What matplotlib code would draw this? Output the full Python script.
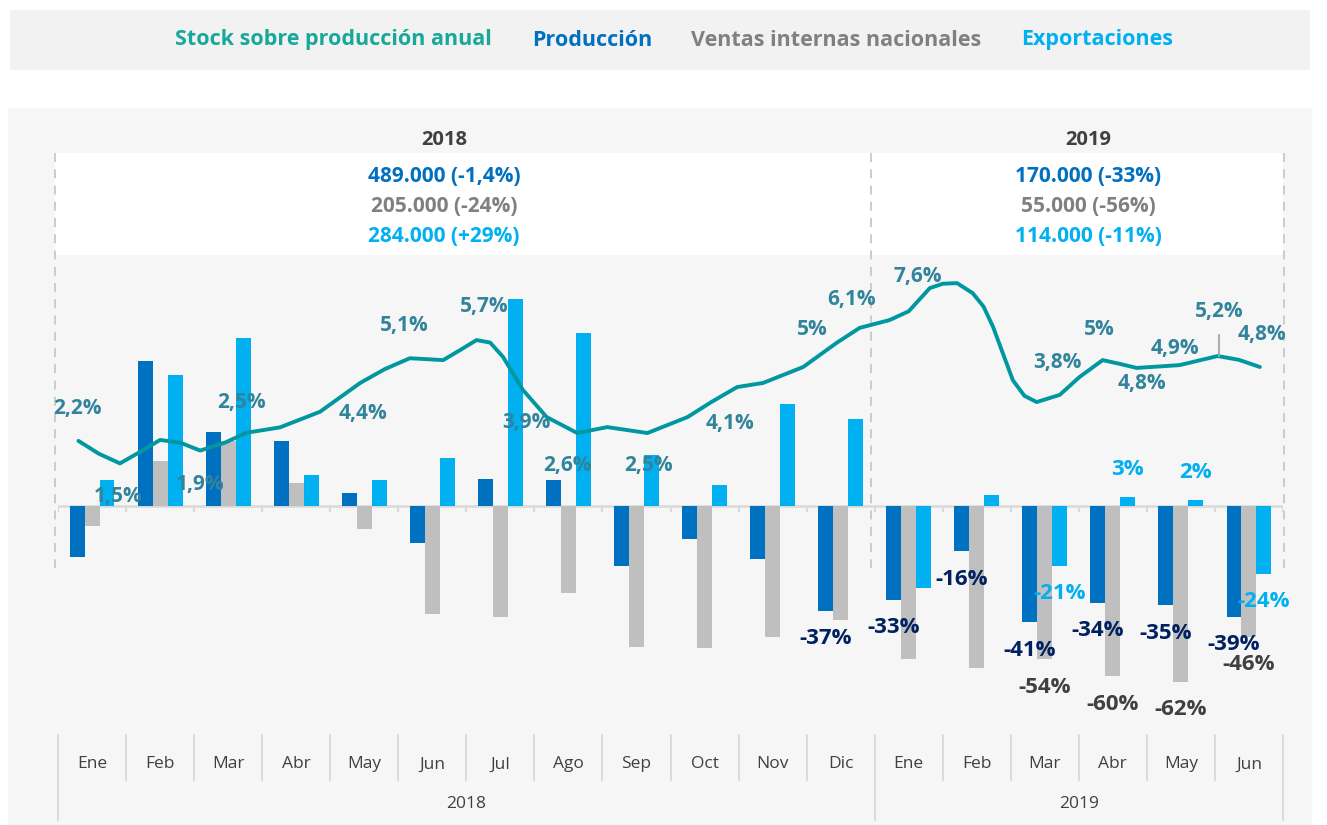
import numpy as np
import matplotlib
matplotlib.use('Agg')
import matplotlib.pyplot as plt
from matplotlib.patches import Rectangle
from matplotlib.transforms import blended_transform_factory

plt.rcParams['font.family'] = ['Open Sans', 'DejaVu Sans']

# data (% change vs same month previous year)
months = ['Ene', 'Feb', 'Mar', 'Abr', 'May', 'Jun', 'Jul', 'Ago', 'Sep', 'Oct', 'Nov', 'Dic',
          'Ene', 'Feb', 'Mar', 'Abr', 'May', 'Jun']
years = ['2018', '2019']
produccion = [-18, 51, 26, 23, 4.5, -13, 9.5, 9, -21, -11.5, -18.5, -37,
              -33, -16, -41, -34, -35, -39]
ventas = [-7, 16, 23, 8, -8, -38, -39, -30.5, -49.5, -50, -46, -40,
          -54, -57, -54, -60, -62, -46]
exportaciones = [9, 46, 59, 11, 9, 17, 73, 61, 18, 7.5, 36, 30.5,
                 -29, 4, -21, 3, 2, -24]
# which bars carry a data label
prod_lab = [False] * 11 + [True] * 7
vent_lab = [False] * 14 + [True] * 4
expo_lab = [False] * 14 + [True] * 4

# stock over annual production (smoothed line)
stock_x = [-0.2, 0.1, 0.41, 0.7, 1.0, 1.3, 1.59, 1.95, 2.27, 2.76, 3.35, 3.94, 4.3, 4.67, 5.16,
           5.4, 5.65, 5.85, 6.04, 6.33, 6.68, 7.13, 7.57, 8.16, 8.75, 9.1, 9.48, 9.86, 10.45,
           10.94, 11.28, 11.72, 12.0, 12.31, 12.5, 12.71, 12.94, 13.1, 13.24, 13.53, 13.7,
           13.88, 14.22, 14.51, 14.85, 15.1, 15.35, 15.98, 16.54, 16.85, 17.16]
stock_y = [2.56, 2.15, 1.84, 2.2, 2.59, 2.5, 2.25, 2.5, 2.82, 2.99, 3.49, 4.41, 4.85, 5.2, 5.14,
           5.45, 5.78, 5.7, 5.24, 4.19, 3.32, 2.81, 3.0, 2.81, 3.32, 3.8, 4.28, 4.41, 4.92,
           5.69, 6.17, 6.42, 6.7, 7.44, 7.58, 7.6, 7.28, 6.85, 6.2, 4.5, 4.0,
           3.8, 4.03, 4.6, 5.14, 5.02, 4.89, 4.98, 5.27, 5.15, 4.92]
stock_labels = ['2,2%', '1,5%', '1,9%', '2,5%', '4,4%', '5,1%', '5,7%', '3,9%', '2,6%', '2,5%',
                '4,1%', '5%', '6,1%', '7,6%', '3,8%', '5%', '4,8%', '4,9%', '5,2%', '4,8%']
stock_lab_x = [-0.21, 0.38, 1.59, 2.19, 3.98, 4.59, 5.76, 6.38, 6.98, 8.18,
               9.37, 10.59, 11.16, 12.13, 14.18, 14.8, 15.42, 15.91, 16.57, 17.19]
stock_lab_y = [3.58, 0.77, 1.18, 3.8, 3.42, 6.26, 6.84, 3.16, 1.76, 1.76,
               3.13, 6.13, 7.09, 7.8, 5.05, 6.13, 4.39, 5.5, 6.68, 5.96]

header_2018 = ['489.000 (-1,4%)', '205.000 (-24%)', '284.000 (+29%)']
header_2019 = ['170.000 (-33%)', '55.000 (-56%)', '114.000 (-11%)']

c_prod = '#0070C0'
c_vent = '#BFBFBF'
c_expo = '#00B0F0'
c_line = '#0097A0'
c_lab = '#31849B'

W, H = 1327, 825
fig = plt.figure(figsize=(W / 100, H / 100), dpi=100)
fig.patch.set_facecolor('white')

# background layer in pixel coordinates
bg = fig.add_axes([0, 0, 1, 1], zorder=-1)
bg.set_xlim(0, W)
bg.set_ylim(H, 0)
bg.axis('off')
bg.add_patch(Rectangle((10, 10), 1300, 60, color='#F2F2F2', lw=0))
bg.add_patch(Rectangle((8, 108), 1304, 717, color='#F6F6F6', lw=0))
bg.add_patch(Rectangle((55, 153), 1228, 102, color='white', lw=0))
for xd in [55, 871, 1284]:
    bg.plot([xd, xd], [153, 568], color='#C8C8C8', lw=1.3, ls=(0, (5, 4)))

# legend
leg = [('Stock sobre producción anual', '#17A89A', 333),
       ('Producción', c_prod, 592),
       ('Ventas internas nacionales', '#808080', 836),
       ('Exportaciones', c_expo, 1097)]
for txt, col, xc in leg:
    bg.text(xc, 40, txt, color=col, fontsize=15.5, fontweight='bold', ha='center', va='center')

# header with yearly totals
for xc, yr, lines in [(444, years[0], header_2018), (1088, years[1], header_2019)]:
    bg.text(xc, 140, yr, color='#404040', fontsize=14.5, fontweight='bold', ha='center', va='center')
    for yy, txt, col in zip([177, 206, 236], lines, [c_prod, '#808080', c_expo]):
        bg.text(xc, yy, txt, color=col, fontsize=15, fontweight='bold', ha='center', va='center')

# main bar axes
ax = fig.add_axes([58 / W, 1 - 730 / H, 1225 / W, 475 / H])
ax.patch.set_alpha(0)
x = np.arange(len(months))
bw = 0.22
ax.bar(x - bw, produccion, bw, color=c_prod, zorder=2)
ax.bar(x, ventas, bw, color=c_vent, zorder=2)
ax.bar(x + bw, exportaciones, bw, color=c_expo, zorder=2)
ax.set_xlim(-0.5, 17.5)
ax.set_ylim(-78.87, 88.38)
ax.axhline(0, color='#D9D9D9', lw=1.8, zorder=1)
ax.vlines(np.arange(len(months) + 1) - 0.5, -2, 0, color='#D9D9D9', lw=1.5, zorder=1)

for vals, flags, off, col in [(produccion, prod_lab, -bw, '#002060'),
                              (ventas, vent_lab, 0, '#404040'),
                              (exportaciones, expo_lab, bw, c_expo)]:
    for i, (v, f) in enumerate(zip(vals, flags)):
        if f:
            ax.annotate(f'{v:.0f}%', (i + off, v), xytext=(0, 20 if v > 0 else -20),
                        textcoords='offset points', ha='center', va='center',
                        color=col, fontsize=16, fontweight='bold', zorder=5)

for s in ax.spines.values():
    s.set_visible(False)
ax.set_yticks([])
ax.set_xticks(x)
ax.set_xticklabels(months, fontsize=12.5, color='#404040')
ax.tick_params(axis='x', length=0, pad=19)

# category separators and year labels under the axis
tr = blended_transform_factory(ax.transData, ax.transAxes)
for k in range(len(months) + 1):
    xs = k - 0.5
    bottom = -0.19 if k in (0, 12, 18) else -0.105
    ax.plot([xs, xs], [-0.01, bottom], transform=tr, color='#D9D9D9', lw=1.3, clip_on=False)
ax.text(5.5, -0.156, years[0], transform=tr, ha='center', va='center', fontsize=12.5, color='#404040')
ax.text(14.5, -0.156, years[1], transform=tr, ha='center', va='center', fontsize=12.5, color='#404040')

# stock line on its own scale
ax2 = ax.twinx()
ax2.set_ylim(-6.677, 8.498)
ax2.axis('off')
ax2.plot(stock_x, stock_y, color=c_line, lw=2.8, solid_capstyle='round', solid_joinstyle='round')
for t, lx, ly in zip(stock_labels, stock_lab_x, stock_lab_y):
    ax2.text(lx, ly, t, ha='center', va='center', color=c_lab, fontsize=15, fontweight='bold')
ax2.plot([16.56, 16.56], [5.27, 5.95], color='#A6A6A6', lw=1.3)

fig.savefig('out.png', dpi=100)
